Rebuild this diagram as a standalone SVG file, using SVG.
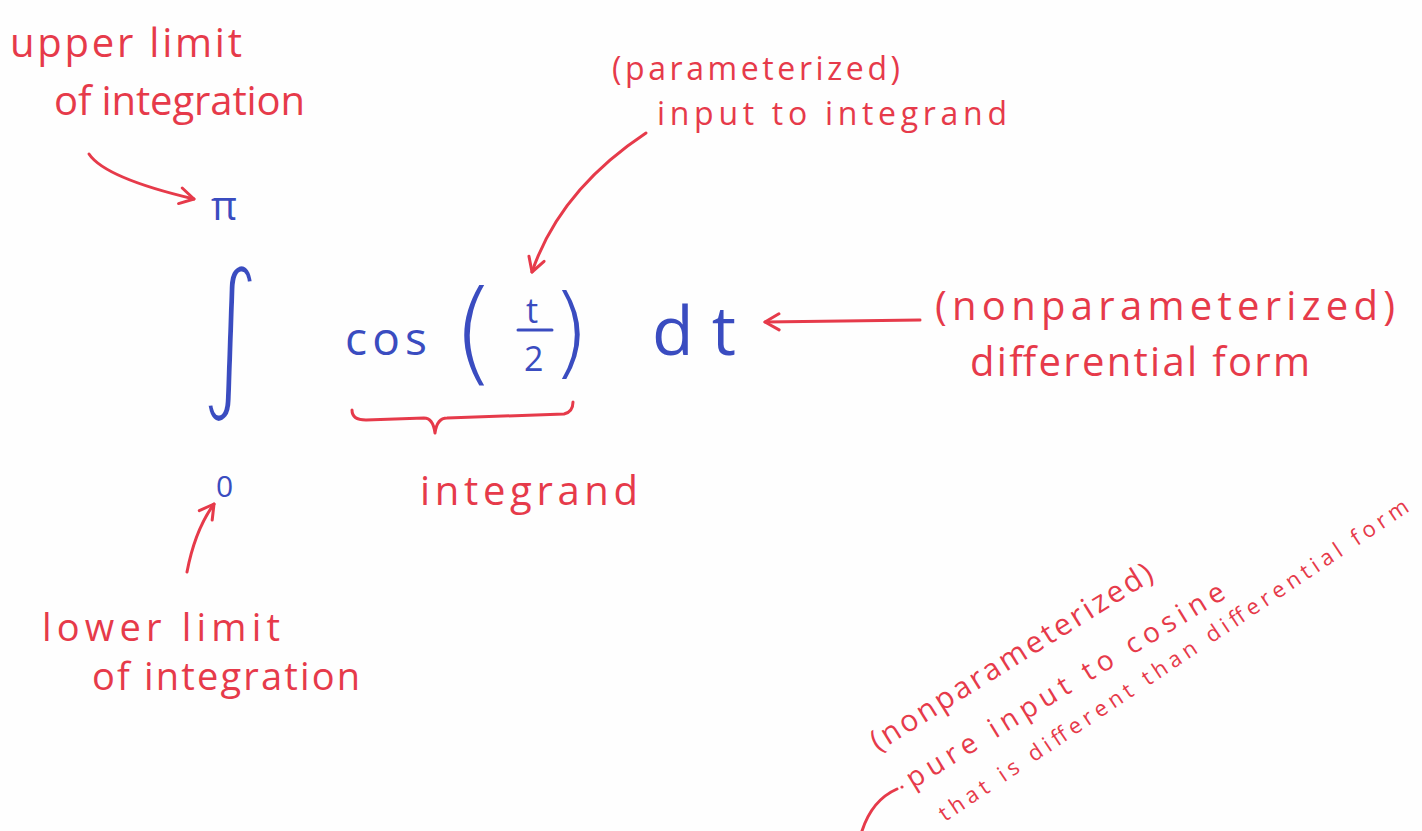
<svg xmlns="http://www.w3.org/2000/svg" width="1422" height="831" viewBox="0 0 1422 831">
<style>
.r{fill:#e63a4a;font-family:"Open Sans","Liberation Sans",sans-serif}
.b{fill:#3a4cc0;font-family:"Open Sans","Liberation Sans",sans-serif}
.m{font-family:"DejaVu Sans",sans-serif;font-weight:200}
.i{font-family:"DejaVu Sans",sans-serif;stroke:#fefefe;stroke-width:5;stroke-linejoin:round}
.rl{fill:none;stroke:#e63a4a;stroke-width:3;stroke-linecap:round;stroke-linejoin:round}
.bl{fill:none;stroke:#3a4cc0;stroke-width:3;stroke-linecap:round}
</style>
<defs>
<marker id="ah" viewBox="0 0 20 20" refX="18" refY="10" markerWidth="20" markerHeight="20" markerUnits="userSpaceOnUse" orient="auto">
<path d="M4,2 L18,10 L4,18" fill="none" stroke="#e63a4a" stroke-width="3" stroke-linecap="round" stroke-linejoin="round"/>
</marker>
</defs>
<rect width="1422" height="831" fill="#fefefe"/>

<g id="formula">
<text class="b" x="211" y="220" font-size="40">π</text>
<text class="b i" x="0" y="0" font-size="120" transform="translate(199,389) scale(1,1.39)">∫</text>
<text class="b" x="216" y="497" font-size="30">0</text>
<text class="b" x="345" y="355" font-size="46" textLength="82" lengthAdjust="spacing">cos</text>
<text class="b m" x="452" y="370" font-size="112">(</text>
<text class="b" x="526" y="323" font-size="34">t</text>
<line class="bl" x1="518" y1="330" x2="552" y2="330"/>
<text class="b" x="524" y="371" font-size="34">2</text>
<text class="b m" x="551" y="366" font-size="100">)</text>
<text class="b" x="652" y="355" font-size="68" textLength="84" lengthAdjust="spacing">dt</text>
</g>

<g id="upper-label">
<text class="r" x="10" y="57" font-size="40" textLength="232" lengthAdjust="spacing">upper limit</text>
<text class="r" x="54" y="115" font-size="40" textLength="251" lengthAdjust="spacing">of integration</text>
</g>
<g id="param-label">
<text class="r" x="612" y="80" font-size="32" textLength="288" lengthAdjust="spacing">(parameterized)</text>
<text class="r" x="657" y="125" font-size="32" textLength="350" lengthAdjust="spacing">input to integrand</text>
</g>
<g id="nonparam-label">
<text class="r" x="935" y="320" font-size="40" textLength="460" lengthAdjust="spacing">(nonparameterized)</text>
<text class="r" x="970" y="376" font-size="40" textLength="340" lengthAdjust="spacing">differential form</text>
</g>
<g id="integrand-label">
<text class="r" x="420" y="505" font-size="40" textLength="218" lengthAdjust="spacing">integrand</text>
</g>
<g id="lower-label">
<text class="r" x="42" y="641" font-size="38" textLength="238" lengthAdjust="spacing">lower limit</text>
<text class="r" x="92" y="690" font-size="38" textLength="268" lengthAdjust="spacing">of integration</text>
</g>
<g id="pure-label">
<text class="r" font-size="30" transform="translate(878,752) rotate(-32)" textLength="327" lengthAdjust="spacing">(nonparameterized)</text>
<text class="r" font-size="28" transform="translate(913,789) rotate(-31.4)" textLength="368" lengthAdjust="spacing">pure input to cosine</text>
<text class="r" font-size="22" transform="translate(945,822) rotate(-33.8)" textLength="560" lengthAdjust="spacing">that is different than differential form</text>
</g>

<g id="connectors">
<path class="rl" d="M89,154 Q105,178 194,199" marker-end="url(#ah)"/>
<path class="rl" d="M646,133 Q560,190 532,272" marker-end="url(#ah)"/>
<path class="rl" d="M920,320 L765,322" marker-end="url(#ah)"/>
<path class="rl" d="M187,572 Q195,530 214,504" marker-end="url(#ah)"/>
<path class="rl" d="M352,410 Q352,420 366,420 L424,418 Q433,418 435,433 Q437,418 447,418 L564,414 Q573,412 573,402"/>
<path class="rl" d="M862,831 Q872,800 897,789"/>
<circle cx="902" cy="787" r="1.6" fill="#e63a4a"/>
</g>
</svg>
